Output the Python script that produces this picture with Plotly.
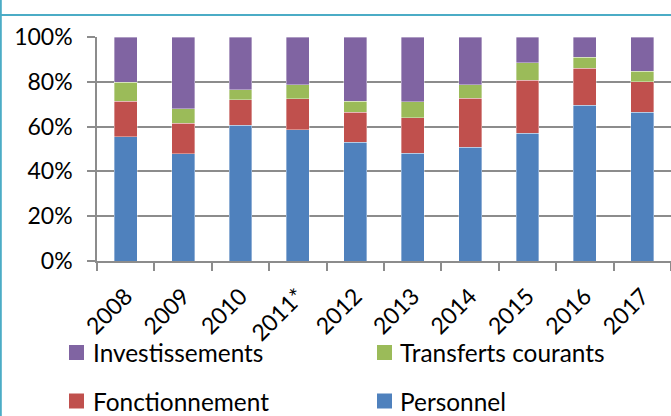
import plotly.graph_objects as go

years = ["2008", "2009", "2010", "2011*", "2012", "2013", "2014", "2015", "2016", "2017"]
personnel = [55.4, 47.9, 60.6, 58.7, 53.1, 48.1, 50.7, 57.0, 69.6, 66.3]
fonctionnement = [15.9, 13.6, 11.3, 13.7, 13.3, 15.8, 22.0, 23.6, 16.5, 13.7]
transferts = [8.6, 6.4, 4.5, 6.3, 4.9, 7.3, 6.0, 7.8, 4.9, 4.8]
investissements = [20.1, 32.1, 23.6, 21.3, 28.7, 28.8, 21.3, 11.6, 9.0, 15.2]

series = [
    ("Personnel", personnel, "#4F81BD"),
    ("Fonctionnement", fonctionnement, "#C0504D"),
    ("Transferts courants", transferts, "#9BBB59"),
    ("Investissements", investissements, "#8064A2"),
]

FONT = "Lato"
W, H = 671, 416
L, R, T, B = 97, 0, 37, 155
PW, PH = W - L - R, H - T - B

fig = go.Figure()
for name, vals, col in series:
    fig.add_trace(go.Bar(
        x=years, y=[v / 100 for v in vals], name=name,
        marker=dict(color=col, line=dict(color="rgba(255,255,255,0.45)", width=0.8)),
        showlegend=False,
    ))

def px_x(px):
    return (px - L) / PW

def px_y(py):
    return (H - B - py) / PH

shapes = []
annotations = []
legend_items = [
    ("Investissements", "#8064A2", 69, 91.5, 352.5),
    ("Transferts courants", "#9BBB59", 377, 399, 352.5),
    ("Fonctionnement", "#C0504D", 69, 91.5, 401),
    ("Personnel", "#4F81BD", 377, 399, 401),
]
for text, col, sx, tx, cy in legend_items:
    shapes.append(dict(type="rect", xref="paper", yref="paper",
                       x0=px_x(sx), x1=px_x(sx + 15), y0=px_y(cy - 7.5), y1=px_y(cy + 7.5),
                       fillcolor=col, line=dict(width=0)))
    annotations.append(dict(text=text, xref="paper", yref="paper", x=px_x(tx), y=px_y(cy),
                            xanchor="left", yanchor="middle", showarrow=False, borderpad=0,
                            font=dict(family=FONT, size=24.4, color="#000000")))

# teal frame lines
shapes.append(dict(type="line", xref="paper", yref="paper", x0=px_x(0), x1=px_x(W),
                   y0=px_y(15), y1=px_y(15), line=dict(color="#4BACC6", width=2)))
shapes.append(dict(type="line", xref="paper", yref="paper", x0=px_x(0.8), x1=px_x(0.8),
                   y0=px_y(0), y1=px_y(H), line=dict(color="#4BACC6", width=2)))

fig.update_layout(
    width=W, height=H,
    margin=dict(l=L, r=R, t=T, b=B, pad=0),
    barmode="stack", bargap=0.6,
    paper_bgcolor="white", plot_bgcolor="white",
    font=dict(family=FONT, size=23, color="#000000"),
    shapes=shapes, annotations=annotations,
    xaxis=dict(
        type="category", tickangle=-45, tickson="boundaries",
        ticks="outside", ticklen=8, tickwidth=1.5, tickcolor="#8c8c8c",
        showline=True, linecolor="#8c8c8c", linewidth=1.5,
        showgrid=False, tickfont=dict(family=FONT, size=23),
        ticklabelstandoff=11,
    ),
    yaxis=dict(
        range=[0, 1], tickvals=[0, 0.2, 0.4, 0.6, 0.8, 1.0],
        ticktext=["0%", "20%", "40%", "60%", "80%", "100%"],
        ticks="outside", ticklen=8, tickwidth=1.5, tickcolor="#8c8c8c",
        showline=True, linecolor="#8c8c8c", linewidth=1.5,
        showgrid=True, gridcolor="#8c8c8c", gridwidth=1.5,
        zeroline=False, tickfont=dict(family=FONT, size=23),
        ticklabelstandoff=10,
    ),
)

fig.write_html(
    "out.html",
    config={"displayModeBar": False},
    post_script="document.body.style.margin='0';document.body.style.overflow='hidden';",
)
